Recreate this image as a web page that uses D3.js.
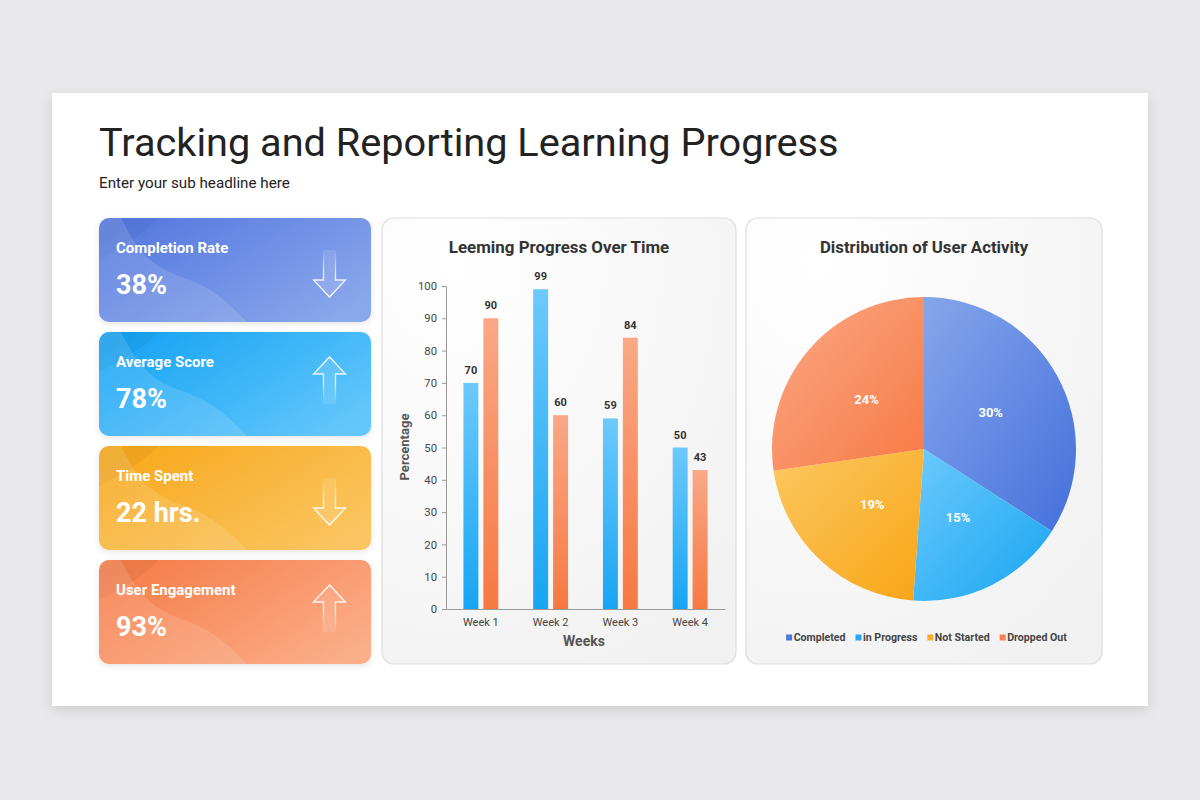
<!DOCTYPE html>
<html><head><meta charset="utf-8">
<script src="https://cdn.jsdelivr.net/npm/d3@7"></script>
<style>
html,body{margin:0;padding:0;background:#e9e8ea;}
svg{display:block;font-family:Roboto,"Noto Sans",sans-serif;}
</style></head>
<body>
<svg id="chart" width="1200" height="800"></svg>
<script>
// ---- data ----
const pageTitle = "Tracking and Reporting Learning Progress";
const pageSubtitle = "Enter your sub headline here";
const cardTitles = ["Completion Rate", "Average Score", "Time Spent", "User Engagement"];
const cardValues = ["38%", "78%", "22 hrs.", "93%"];
const cardTrend = ["down", "up", "down", "up"];
const weeks = ["Week 1", "Week 2", "Week 3", "Week 4"];
const seriesA = [70, 99, 59, 50];
const seriesB = [90, 60, 84, 43];
const yTicks = [0, 10, 20, 30, 40, 50, 60, 70, 80, 90, 100];
const pieLabels = ["Completed", "in Progress", "Not Started", "Dropped Out"];
const pieValues = [30, 15, 19, 24];

const svg = d3.select("#chart");
const defs = svg.append("defs");

// shadow filters
const f1 = defs.append("filter").attr("id","slideShadow").attr("x","-5%").attr("y","-5%").attr("width","110%").attr("height","115%");
f1.append("feDropShadow").attr("dx",0).attr("dy",4).attr("stdDeviation",6).attr("flood-color","#000").attr("flood-opacity",0.12);
const f2 = defs.append("filter").attr("id","cardShadow").attr("x","-10%").attr("y","-10%").attr("width","120%").attr("height","130%");
f2.append("feDropShadow").attr("dx",0).attr("dy",2).attr("stdDeviation",3).attr("flood-color","#000").attr("flood-opacity",0.10);

function linGrad(id, stops, x1, y1, x2, y2){
  const g = defs.append("linearGradient").attr("id", id)
    .attr("x1", x1).attr("y1", y1).attr("x2", x2).attr("y2", y2);
  stops.forEach(s => g.append("stop").attr("offset", s[0]).attr("stop-color", s[1]).attr("stop-opacity", s[2] == null ? 1 : s[2]));
  return "url(#" + id + ")";
}

// slide
svg.append("rect").attr("x",52).attr("y",93).attr("width",1096).attr("height",613)
  .attr("fill","#ffffff").attr("filter","url(#slideShadow)");

svg.append("text").attr("x",99).attr("y",156).attr("font-size",39.7).attr("fill","#222")
  .attr("font-weight",400).text(pageTitle);
svg.append("text").attr("x",99).attr("y",188).attr("font-size",15.2).attr("fill","#222").text(pageSubtitle);

// ---- cards ----
const cardColors = [
  ["#5479df", "#8ba7ec"],
  ["#17a4f4", "#64c7fb"],
  ["#f8a91e", "#fbc562"],
  ["#f67d48", "#fbae8a"]
];
const cardX = 99, cardW = 272, cardH = 104, cardY0 = 218, cardGap = 114;
cardTitles.forEach((t, i) => {
  const y = cardY0 + i * cardGap;
  const g = svg.append("g").attr("transform", `translate(${cardX},${y})`);
  const fill = linGrad("cardg" + i, [[0, cardColors[i][0]], [1, cardColors[i][1]]], "0%", "20%", "100%", "80%");
  const clipId = "cardclip" + i;
  defs.append("clipPath").attr("id", clipId).append("rect").attr("width", cardW).attr("height", cardH).attr("rx", 10);
  g.append("rect").attr("width", cardW).attr("height", cardH).attr("rx", 10).attr("fill", fill).attr("filter","url(#cardShadow)");
  const inner = g.append("g").attr("clip-path", `url(#${clipId})`);
  inner.append("path").attr("d", "M0,0 L60,0 C40,20 20,30 0,40 Z").attr("fill", "#000").attr("opacity", 0.04);
  inner.append("path")
    .attr("d", "M0,0 L22,0 C35,25 45,45 80,58 C110,68 125,80 148," + cardH + " L0," + cardH + " Z")
    .attr("fill", "#fff").attr("opacity", 0.13);
  g.append("text").attr("x", 17).attr("y", 35).attr("font-size", 15).attr("font-weight", 700)
    .attr("fill", "#fff").text(t);
  g.append("text").attr("x", 17).attr("y", 76).attr("font-size", 27).attr("font-weight", 700)
    .attr("fill", "#fff").text(cardValues[i]);
  // arrow
  const cx = 230.5, sw = 6, hw = 16;
  let d, gradId = "arrowg" + i;
  if (cardTrend[i] === "down") {
    const top = 32, base = 62, tip = 79;
    d = `M${cx - sw},${top} L${cx - sw},${base} L${cx - hw},${base} L${cx},${tip} L${cx + hw},${base} L${cx + sw},${base} L${cx + sw},${top}`;
    linGrad(gradId, [[0, "#fff", 0], [0.5, "#fff", 0.8], [1, "#fff", 1]], "0", "0", "0", "1");
  } else {
    const tip = 25, base = 42, bottom = 72;
    d = `M${cx - sw},${bottom} L${cx - sw},${base} L${cx - hw},${base} L${cx},${tip} L${cx + hw},${base} L${cx + sw},${base} L${cx + sw},${bottom}`;
    linGrad(gradId, [[0, "#fff", 1], [0.5, "#fff", 0.8], [1, "#fff", 0]], "0", "0", "0", "1");
  }
  g.append("path").attr("d", d).attr("fill", "#fff").attr("fill-opacity", 0.12)
    .attr("stroke", `url(#${gradId})`).attr("stroke-width", 1.3).attr("stroke-linejoin", "miter");
});

// ---- panels ----
const panelBg = defs.append("radialGradient").attr("id", "panelBg").attr("cx", "20%").attr("cy", "10%").attr("r", "110%");
panelBg.append("stop").attr("offset", 0).attr("stop-color", "#ffffff");
panelBg.append("stop").attr("offset", 1).attr("stop-color", "#f1f1f1");
function panel(x, y, w, h){
  svg.append("rect").attr("x", x).attr("y", y).attr("width", w).attr("height", h).attr("rx", 12)
    .attr("fill", "url(#panelBg)").attr("stroke", "#dddddd").attr("stroke-width", 1.2);
}
panel(382, 218, 354, 446);
panel(746, 218, 356, 446);

// ---- bar chart ----
svg.append("text").attr("x", 559).attr("y", 253).attr("text-anchor", "middle").attr("font-size", 16.9)
  .attr("font-weight", 700).attr("fill", "#333").text("Leeming Progress Over Time");

const y = d3.scaleLinear().domain([0, 100]).range([609, 286]);
const x0 = d3.scaleBand().domain(weeks).range([446, 725]).paddingInner(0.5).paddingOuter(0.25);
const x1 = d3.scaleBand().domain([0, 1]).range([0, x0.bandwidth()]).paddingInner(0.25);

const gA = linGrad("barA", [[0, "#6cc9fc"], [1, "#17a5f3"]], "0", "0", "0", "1");
const gB = linGrad("barB", [[0, "#f9a886"], [1, "#f77942"]], "0", "0", "0", "1");

const yAxis = svg.append("g").attr("transform", "translate(446,0)")
  .call(d3.axisLeft(y).tickValues(yTicks).tickSize(4).tickSizeOuter(0));
yAxis.select(".domain").attr("stroke", "#9a9a9a");
yAxis.selectAll(".tick line").attr("stroke", "#9a9a9a");
yAxis.selectAll(".tick text").attr("font-size", 11.3).attr("fill", "#444").attr("font-family", "Roboto, sans-serif").attr("dx", -2);

const xAxis = svg.append("g").attr("transform", "translate(0,609)")
  .call(d3.axisBottom(x0).tickSize(0).tickSizeOuter(0));
xAxis.select(".domain").attr("stroke", "#9a9a9a").attr("stroke-width", 1.2);
xAxis.selectAll(".tick text").attr("font-size", 11).attr("fill", "#444").attr("font-family", "Roboto, sans-serif").attr("dy", "1.3em");

const groups = svg.append("g").selectAll("g").data(weeks).join("g")
  .attr("transform", d => `translate(${x0(d)},0)`);
[seriesA, seriesB].forEach((ser, s) => {
  groups.append("rect")
    .attr("x", x1(s)).attr("width", x1.bandwidth())
    .attr("y", (d, i) => y(ser[i])).attr("height", (d, i) => y(0) - y(ser[i]))
    .attr("fill", s === 0 ? gA : gB);
  groups.append("text")
    .attr("x", x1(s) + x1.bandwidth() / 2).attr("y", (d, i) => y(ser[i]) - 9)
    .attr("text-anchor", "middle").attr("font-size", 11).attr("font-weight", 700).attr("fill", "#333")
    .text((d, i) => ser[i]);
});

svg.append("text").attr("x", 584).attr("y", 646).attr("text-anchor", "middle").attr("font-size", 14)
  .attr("font-weight", 700).attr("fill", "#555").text("Weeks");
svg.append("text").attr("transform", "translate(409,447) rotate(-90)").attr("text-anchor", "middle")
  .attr("font-size", 13).attr("font-weight", 700).attr("fill", "#555").text("Percentage");

// ---- pie chart ----
svg.append("text").attr("x", 924).attr("y", 253).attr("text-anchor", "middle").attr("font-size", 16.8)
  .attr("font-weight", 700).attr("fill", "#333").text("Distribution of User Activity");

const pieColors = [
  ["#86a6eb", "#4470dc"],
  ["#6ccafc", "#18a5f2"],
  ["#fcc862", "#f8a515"],
  ["#fba886", "#f77a44"]
];
const R = 152;
const pie = d3.pie().sort(null).value(d => d)(pieValues);
const arc = d3.arc().innerRadius(0).outerRadius(R);
const labelArc = d3.arc().innerRadius(R * 0.5).outerRadius(R * 0.5);
const pg = svg.append("g").attr("transform", "translate(924,449)");
pg.selectAll("path").data(pie).join("path")
  .attr("d", arc)
  .attr("fill", (d, i) => linGrad("pieg" + i, [[0, pieColors[i][0]], [1, pieColors[i][1]]], "0", "0", "1", "1"));
pg.selectAll("text").data(pie).join("text")
  .attr("transform", d => `translate(${labelArc.centroid(d)})`)
  .attr("text-anchor", "middle").attr("dy", "0.35em")
  .attr("font-size", 13).attr("font-weight", 700).attr("fill", "#fff")
  .text(d => d.data + "%");

// legend
const legend = svg.append("g");
const legendSolid = ["#4f78de", "#22abf4", "#f9ae2a", "#f7844f"];
const items = [];
pieLabels.forEach((lab, i) => {
  const it = legend.append("g");
  it.append("rect").attr("x", 0).attr("y", -6.5).attr("width", 6).attr("height", 6).attr("fill", legendSolid[i]);
  const t = it.append("text").attr("x", 7.5).attr("y", 0).attr("font-size", 10.6).attr("font-weight", 700)
    .attr("fill", "#444").text(lab);
  const w = 7.5 + t.node().getComputedTextLength();
  items.push({it, w});
});
const gap = 10;
const total = d3.sum(items, d => d.w) + gap * (items.length - 1);
let cx = 926.5 - total / 2;
items.forEach(d => { d.it.attr("transform", `translate(${cx},641)`); cx += d.w + gap; });
</script>
</body></html>
